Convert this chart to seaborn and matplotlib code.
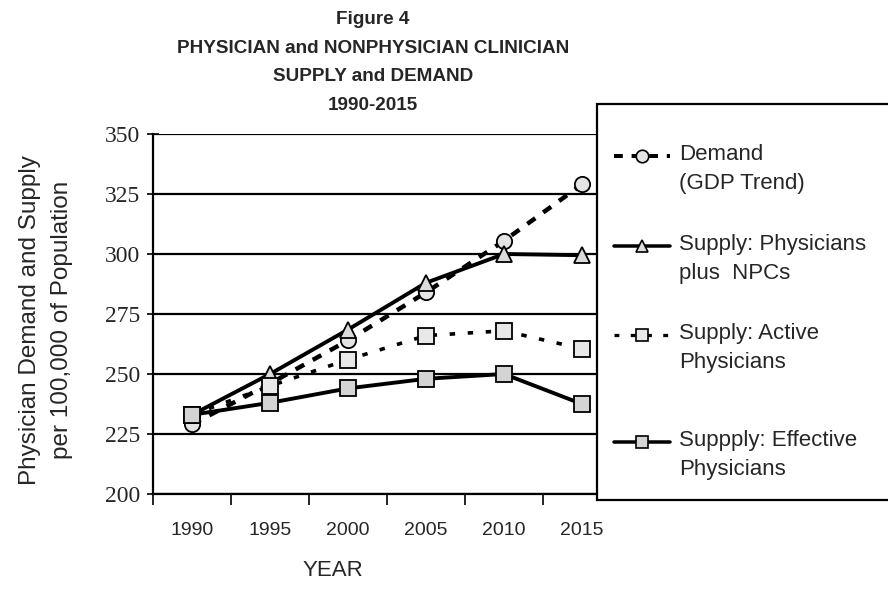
import matplotlib
matplotlib.use('Agg')
import matplotlib.pyplot as plt
import matplotlib.patches as mpatches
from matplotlib.lines import Line2D
import seaborn as sns

# === DATOS ===
years = [1990, 1995, 2000, 2005, 2010, 2015]
demand_gdp = [229, 246, 264, 284, 305.5, 329]
supply_phys_npc = [233, 250, 268.5, 288, 300, 299.5]
supply_active = [233, 245, 256, 266, 268, 260.5]
supply_effective = [233, 238, 244, 248, 250, 237.5]

series_labels = ['Demand\n(GDP Trend)',
                 'Supply: Physicians\nplus  NPCs',
                 'Supply: Active\nPhysicians',
                 'Suppply: Effective\nPhysicians']
y_ticks = [200, 225, 250, 275, 300, 325, 350]

sns.set_style('ticks')
plt.rcParams['font.family'] = ['Liberation Sans', 'DejaVu Sans']

W, H = 888, 602
fig = plt.figure(figsize=(8.88, 6.02), dpi=100)
ax = fig.add_axes([153 / W, 1 - 494 / H, (621 - 153) / W, (494 - 134) / H])

# estilos de cada serie
estilos = [
    dict(marker='o', linestyle=(0, (2.2, 2.2)), linewidth=3.2, markerfacecolor='#e4e4e4'),
    dict(marker='^', linestyle='-', linewidth=2.8, markerfacecolor='#dcdcdc'),
    dict(marker='s', linestyle=(0, (1.5, 3.5)), linewidth=2.6, markerfacecolor='#e8e8e8'),
    dict(marker='s', linestyle='-', linewidth=2.8, markerfacecolor='#d4d4d4'),
]
valores = [demand_gdp, supply_phys_npc, supply_active, supply_effective]

for vals, est in zip(valores, estilos):
    sns.lineplot(x=years, y=vals, ax=ax, color='black', markersize=11,
                 markeredgecolor='black', markeredgewidth=1.3, legend=False, **est)

# === EJES ===
ax.set_xlim(1987.5, 2017.5)
ax.set_ylim(200, 350)
ax.set_yticks(y_ticks)
ax.set_yticklabels([str(v) for v in y_ticks], family='Liberation Serif', fontsize=17)
ax.set_xticks(years)
ax.set_xticklabels([str(y) for y in years], fontsize=14)
ax.set_xticks([1987.5, 1992.5, 1997.5, 2002.5, 2007.5, 2012.5], minor=True)
ax.tick_params(axis='x', which='major', length=0, pad=20)
ax.tick_params(axis='x', which='minor', length=8, width=1.2, direction='out', color='black')
ax.tick_params(axis='y', length=8, width=1.2, direction='inout', color='black', pad=5)
for y in y_ticks:
    ax.axhline(y, color='black', linewidth=1.6, zorder=0)
for s in ['top', 'right']:
    ax.spines[s].set_visible(False)
for s in ['left', 'bottom']:
    ax.spines[s].set_color('black')
    ax.spines[s].set_linewidth(1.6)

fig.text(46 / W, 1 - 320 / H, 'Physician Demand and Supply\nper 100,000 of Population',
         rotation=90, ha='center', va='center', fontsize=17.5, linespacing=1.55)
fig.text(333 / W, 1 - 570 / H, 'YEAR', ha='center', va='center', fontsize=16)

# === TÍTULO ===
fig.text(373 / W, 1 - 11 / H,
         'Figure 4\nPHYSICIAN and NONPHYSICIAN CLINICIAN\nSUPPLY and DEMAND\n1990-2015',
         ha='center', va='top', fontsize=13.6, fontweight='bold', linespacing=1.9)

# === LEYENDA (manual) ===
caja = mpatches.Rectangle((597 / W, 1 - 500 / H), 0.5, (500 - 104) / H,
                          transform=fig.transFigure, facecolor='white', edgecolor='black',
                          linewidth=1.6, zorder=5)
fig.patches.append(caja)

filas = [156, 246, 335, 442]
for lab, est, yrow in zip(series_labels, estilos, filas):
    yf = 1 - yrow / H
    linea = Line2D([614 / W, 670 / W], [yf, yf], transform=fig.transFigure,
                   color='black', linestyle=est['linestyle'], linewidth=est['linewidth'] * 0.9,
                   zorder=6)
    marca = Line2D([642 / W], [yf], transform=fig.transFigure, marker=est['marker'],
                   markersize=9, markerfacecolor=est['markerfacecolor'],
                   markeredgecolor='black', markeredgewidth=1.2, linestyle='none', zorder=7)
    fig.add_artist(linea)
    fig.add_artist(marca)
    fig.text(679 / W, yf + 12 / H, lab, ha='left', va='top', fontsize=16,
             linespacing=1.5, zorder=7)

fig.savefig('out.png', dpi=100)
